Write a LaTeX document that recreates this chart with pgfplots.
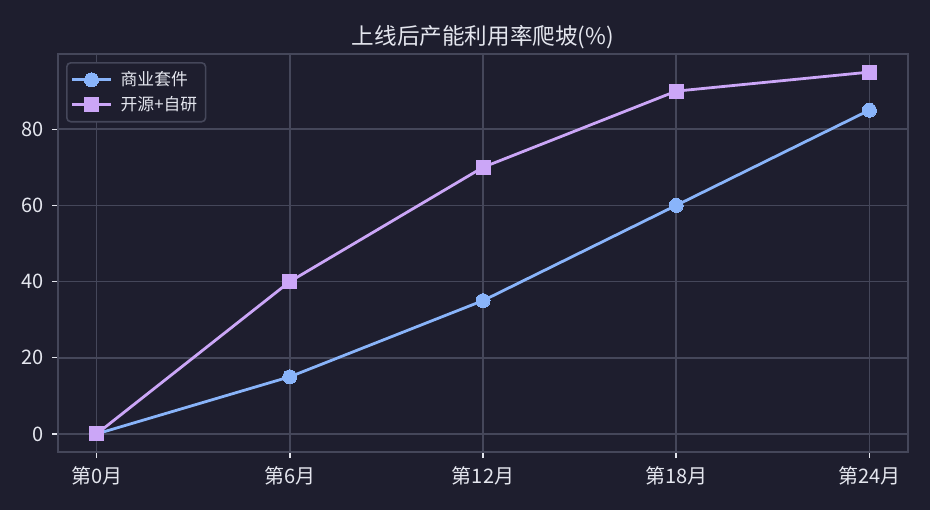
\documentclass[border=0pt]{standalone}
\usepackage{fontspec}
\setmainfont{Noto Sans CJK SC}
\usepackage{pgfplots}
\pgfplotsset{compat=1.18}
\usetikzlibrary{backgrounds,calc}
\definecolor{bg}{HTML}{1E1E2E}
\definecolor{gridc}{HTML}{45475A}
\definecolor{txt}{HTML}{E4E6EE}
\definecolor{cblue}{HTML}{89B4FA}
\definecolor{cpurp}{HTML}{CBA6F7}
\begin{document}
\begin{tikzpicture}
\begin{axis}[
  scale only axis,
  width=425pt, height=199pt,
  xmin=-1.2, xmax=25.2, ymin=-4.75, ymax=99.75,
  xtick={0,6,12,18,24},
  xticklabels={第0月,第6月,第12月,第18月,第24月},
  ytick={0,20,40,60,80},
  xtick pos=bottom, ytick pos=left,
  /pgf/number format/assume math mode=true,
  tick align=outside,
  major tick length=3pt,
  tick style={draw=txt, line width=0.7pt},
  axis line style={draw=gridc, line width=0.9pt},
  grid=major,
  major grid style={draw=gridc, line width=0.85pt},
  ticklabel style={font=\fontsize{10pt}{12pt}\selectfont, text=txt},
  xticklabel style={yshift=-1pt},
  yticklabel style={xshift=-0.5pt},
  title={上线后产能利用率爬坡(\%)},
  title style={font=\fontsize{11.3pt}{13pt}\selectfont, text=txt, at={(0.5,1)}, anchor=center, yshift=2.5pt},
  legend style={at={(0,1)}, anchor=north west, xshift=4pt, yshift=-4pt,
    fill=bg, draw=gridc, line width=0.8pt, rounded corners=2pt, text=txt,
    font=\fontsize{8.4pt}{10pt}\selectfont, row sep=-0.5pt, inner sep=2pt,
    nodes={inner sep=2.2pt}},
  legend image code/.code={\draw[mark repeat=2,mark phase=2] plot coordinates {(0cm,0cm) (0.34cm,0cm) (0.68cm,0cm)};},
  legend cell align=left,
]
\addplot[color=cblue, line width=1.4pt, mark=*, mark size=3.5pt, mark options={fill=cblue, draw=cblue, line width=0pt}]
  coordinates {(0,0) (6,15) (12,35) (18,60) (24,85)};
\addlegendentry{\hspace{2pt}商业套件}
\addplot[color=cpurp, line width=1.4pt, mark=square*, mark size=3.5pt, mark options={fill=cpurp, draw=cpurp, line width=0pt}]
  coordinates {(0,0) (6,40) (12,70) (18,90) (24,95)};
\addlegendentry{\hspace{2pt}开源+自研}
\end{axis}
\begin{pgfonlayer}{background}
\fill[bg] ($(current axis.south west)+(-29pt,-29pt)$) rectangle ($(current axis.north east)+(11pt,27pt)$);
\end{pgfonlayer}
\end{tikzpicture}
\end{document}
